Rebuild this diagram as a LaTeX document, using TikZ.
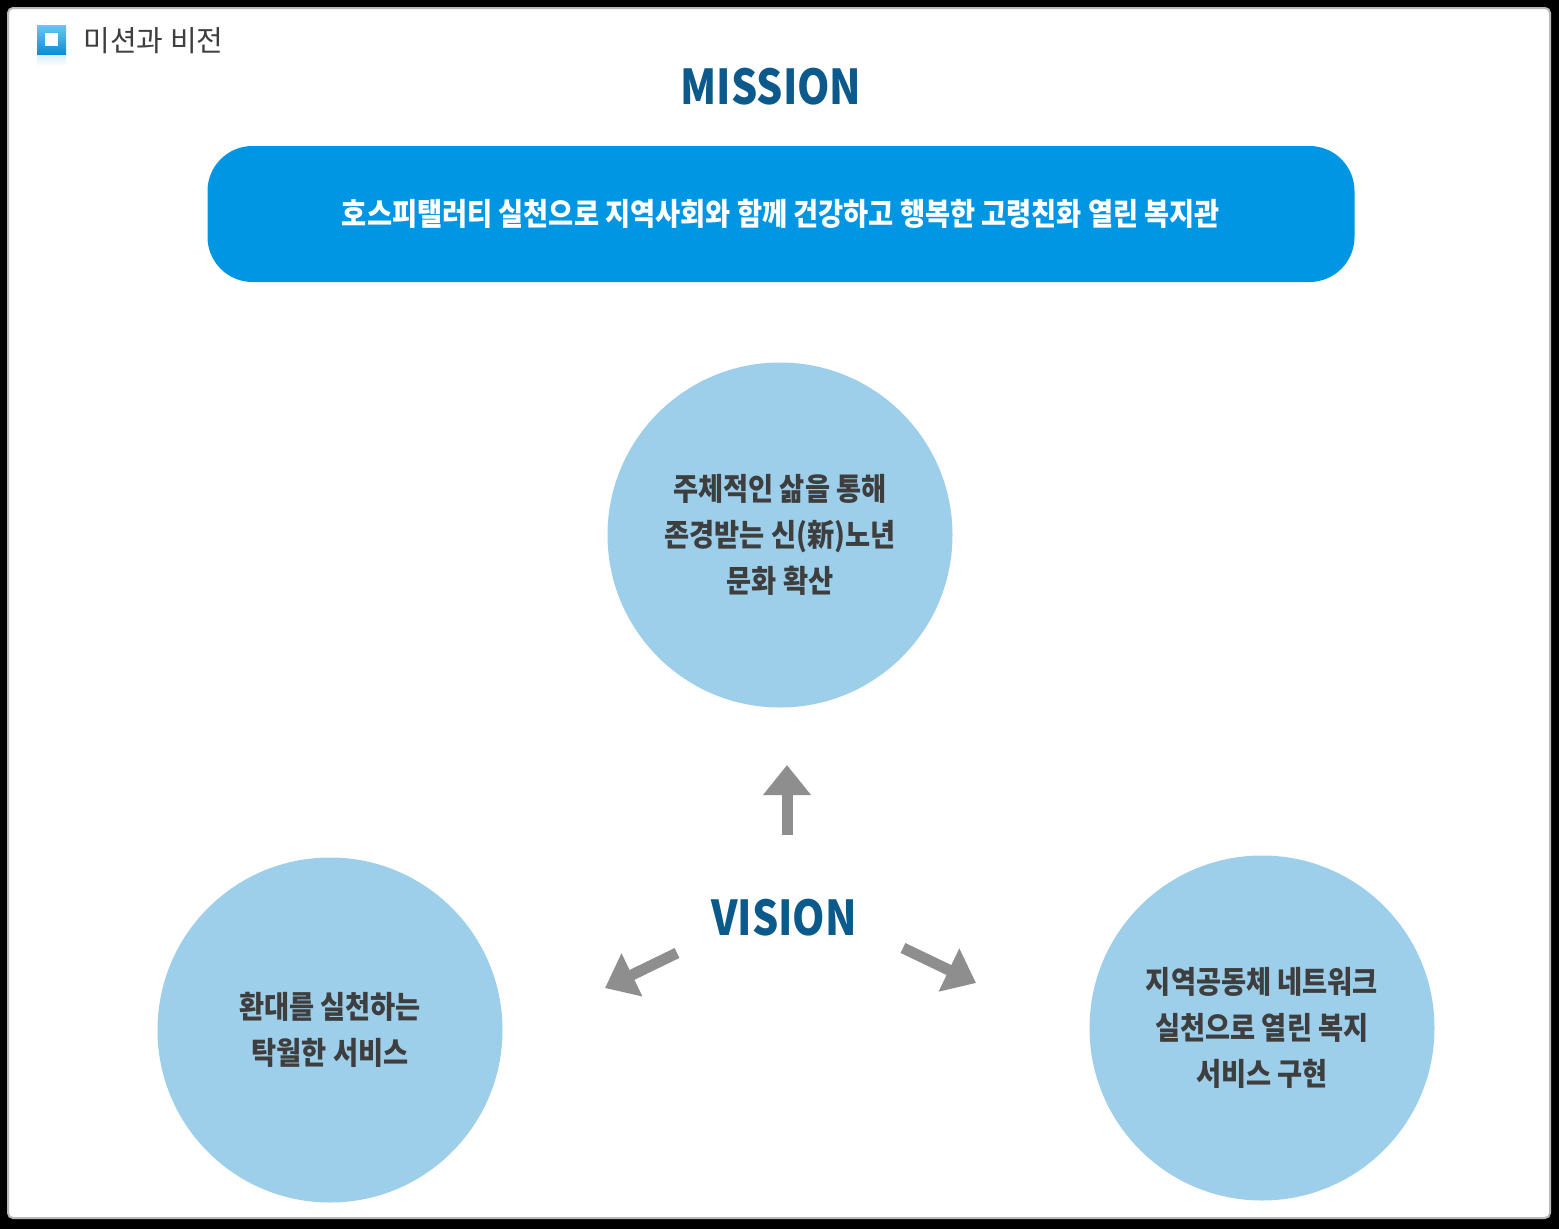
\documentclass[tikz,border=0pt]{standalone}
\usepackage{fontspec}
\newfontfamily\krfont[FakeStretch=0.88]{Noto Sans CJK KR}
\newfontfamily\titlefont{Noto Sans CJK KR}
\newfontfamily\enfont[FakeStretch=0.86]{Noto Sans CJK KR}
\usepackage{tikz}
\usetikzlibrary{arrows.meta,shapes,positioning,calc}
\usepackage{xcolor}

\definecolor{missionblue}{HTML}{0B5A8B}
\definecolor{boxblue}{HTML}{0096E3}
\definecolor{circlebg}{HTML}{9DCFEB}
\definecolor{textgray}{HTML}{3E3E3E}
\definecolor{arrowgray}{HTML}{8E8E8E}
\definecolor{iconlight}{HTML}{6CC6F2}
\definecolor{icondark}{HTML}{0A8ED9}

\tikzset{
  heading/.style={text=missionblue, font=\enfont\bfseries\fontsize{48}{52}\selectfont},
  visioncircle/.style={circle, fill=circlebg, minimum size=345pt, align=center,
                       text=textgray, font=\krfont\bfseries\fontsize{31}{46}\selectfont},
  vecarrow/.style={draw=arrowgray, line width=11pt,
                   -{Triangle[width=46pt,length=30pt]}}
}

\begin{document}
\begin{tikzpicture}[x=1pt, y=-1pt]
  \useasboundingbox (0,0) rectangle (1559,1229);
  \fill[black] (0,0) rectangle (1559,1229);
  \draw[fill=white, draw=gray!55, line width=2pt, rounded corners=5pt] (8,8) rectangle (1550,1218);

  % title
  \shade[top color=icondark!15, bottom color=white] (37,55) rectangle (66,66);
  \shade[top color=iconlight, bottom color=icondark] (37,25) rectangle (66,54);
  \fill[white] (45,33) rectangle (58,46);
  \node[anchor=west, text=textgray, font=\titlefont\fontsize{29}{34}\selectfont] (title) at (80,41) {미션과 비전};

  % mission
  \node[heading] (mission) at (771,87) {MISSION};
  \node[fill=boxblue, rounded corners=45pt, minimum width=1147pt, minimum height=136pt,
        text=white, font=\krfont\bfseries\fontsize{31}{36}\selectfont] (missionbox) at (781,214)
        {호스피탤러티 실천으로 지역사회와 함께 건강하고 행복한 고령친화 열린 복지관};

  % vision
  \node[visioncircle] (top) at (780,535) {주체적인 삶을 통해\\존경받는 신(新)노년\\문화 확산};
  \node[visioncircle] (left) at (330,1030) {환대를 실천하는\\탁월한 서비스};
  \node[visioncircle] (right) at (1262,1028) {지역공동체 네트워크\\실천으로 열린 복지\\서비스 구현};
  \node[heading] (vision) at (784,918) {VISION};

  \coordinate (upfrom) at (787,835);
  \coordinate (upto) at (787,765);
  \coordinate (leftfrom) at (677,953);
  \coordinate (leftto) at (605,988);
  \coordinate (rightfrom) at (903,948);
  \coordinate (rightto) at (976,983);
  \draw[vecarrow] (upfrom) -- (upto);
  \draw[vecarrow] (leftfrom) -- (leftto);
  \draw[vecarrow] (rightfrom) -- (rightto);
\end{tikzpicture}
\end{document}
